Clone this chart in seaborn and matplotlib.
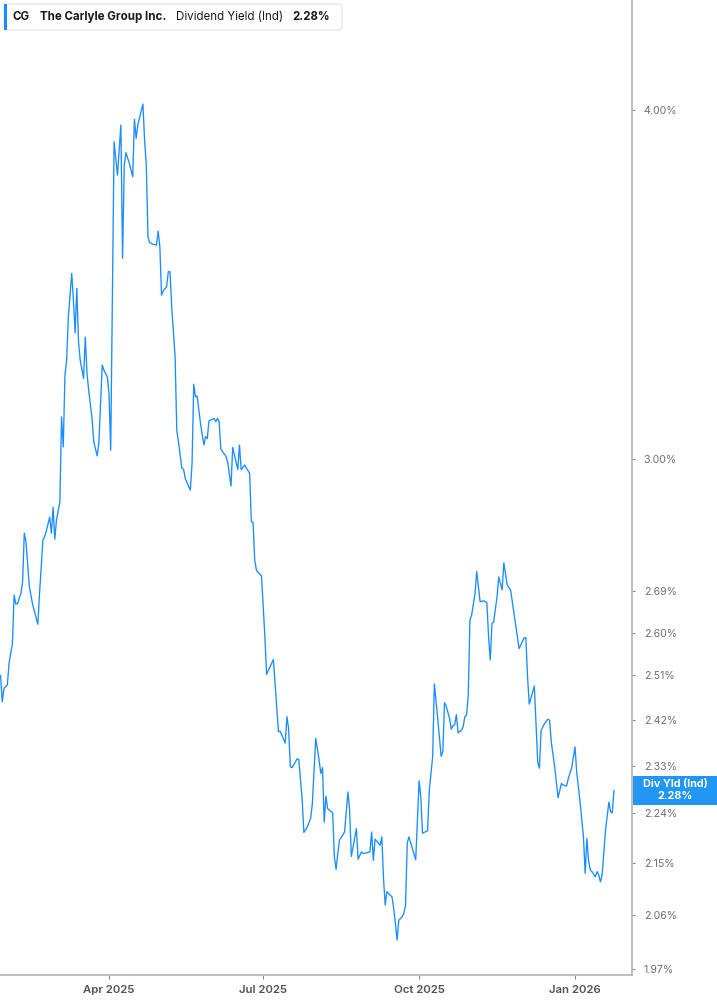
import matplotlib
matplotlib.use("Agg")
import matplotlib.pyplot as plt
from matplotlib.patches import Rectangle, FancyBboxPatch
import seaborn as sns
import pandas as pd
import numpy as np

# ---------------- data ----------------
dates = [
    "2025-01-27", "2025-01-28", "2025-01-29", "2025-01-31", "2025-02-01", "2025-02-03", "2025-02-04", "2025-02-05",
    "2025-02-06", "2025-02-08", "2025-02-09", "2025-02-10", "2025-02-11", "2025-02-13", "2025-02-15", "2025-02-18",
    "2025-02-19", "2025-02-21", "2025-02-22", "2025-02-23", "2025-02-25", "2025-02-26", "2025-02-27", "2025-02-28",
    "2025-03-01", "2025-03-03", "2025-03-04", "2025-03-05", "2025-03-06", "2025-03-07", "2025-03-08", "2025-03-10",
    "2025-03-11", "2025-03-12", "2025-03-13", "2025-03-14", "2025-03-15", "2025-03-17", "2025-03-18", "2025-03-19",
    "2025-03-20", "2025-03-22", "2025-03-23", "2025-03-25", "2025-03-26", "2025-03-28", "2025-03-29", "2025-03-31",
    "2025-04-01", "2025-04-02", "2025-04-04", "2025-04-06", "2025-04-08", "2025-04-09", "2025-04-10", "2025-04-11",
    "2025-04-13", "2025-04-15", "2025-04-16", "2025-04-17", "2025-04-18", "2025-04-21", "2025-04-22", "2025-04-23",
    "2025-04-24", "2025-04-25", "2025-04-27", "2025-04-29", "2025-04-30", "2025-05-01", "2025-05-02", "2025-05-03",
    "2025-05-05", "2025-05-06", "2025-05-07", "2025-05-08", "2025-05-10", "2025-05-11", "2025-05-12", "2025-05-14",
    "2025-05-15", "2025-05-16", "2025-05-19", "2025-05-20", "2025-05-21", "2025-05-22", "2025-05-23", "2025-05-25",
    "2025-05-27", "2025-05-28", "2025-05-29", "2025-05-30", "2025-06-02", "2025-06-03", "2025-06-04", "2025-06-05",
    "2025-06-06", "2025-06-09", "2025-06-10", "2025-06-12", "2025-06-13", "2025-06-16", "2025-06-17", "2025-06-18",
    "2025-06-20", "2025-06-23", "2025-06-24", "2025-06-25", "2025-06-26", "2025-06-27", "2025-06-30", "2025-07-02",
    "2025-07-03", "2025-07-07", "2025-07-10", "2025-07-11", "2025-07-14", "2025-07-15", "2025-07-16", "2025-07-17",
    "2025-07-18", "2025-07-21", "2025-07-22", "2025-07-24", "2025-07-25", "2025-07-27", "2025-07-29", "2025-07-30",
    "2025-07-31", "2025-08-01", "2025-08-03", "2025-08-04", "2025-08-05", "2025-08-06", "2025-08-07", "2025-08-08",
    "2025-08-11", "2025-08-12", "2025-08-13", "2025-08-14", "2025-08-15", "2025-08-18", "2025-08-20", "2025-08-21",
    "2025-08-22", "2025-08-25", "2025-08-26", "2025-08-28", "2025-08-29", "2025-09-02", "2025-09-03", "2025-09-04",
    "2025-09-05", "2025-09-08", "2025-09-09", "2025-09-10", "2025-09-11", "2025-09-12", "2025-09-15", "2025-09-16",
    "2025-09-17", "2025-09-18", "2025-09-19", "2025-09-21", "2025-09-22", "2025-09-23", "2025-09-24", "2025-09-25",
    "2025-09-29", "2025-10-01", "2025-10-02", "2025-10-03", "2025-10-06", "2025-10-07", "2025-10-09", "2025-10-10",
    "2025-10-12", "2025-10-14", "2025-10-15", "2025-10-16", "2025-10-17", "2025-10-19", "2025-10-20", "2025-10-21",
    "2025-10-22", "2025-10-23", "2025-10-24", "2025-10-26", "2025-10-27", "2025-10-28", "2025-10-29", "2025-10-30",
    "2025-10-31", "2025-11-01", "2025-11-03", "2025-11-04", "2025-11-06", "2025-11-08", "2025-11-10", "2025-11-11",
    "2025-11-12", "2025-11-13", "2025-11-14", "2025-11-16", "2025-11-17", "2025-11-19", "2025-11-20", "2025-11-22",
    "2025-11-24", "2025-11-27", "2025-11-29", "2025-12-02", "2025-12-03", "2025-12-04", "2025-12-05", "2025-12-07",
    "2025-12-08", "2025-12-10", "2025-12-11", "2025-12-12", "2025-12-14", "2025-12-16", "2025-12-17", "2025-12-18",
    "2025-12-20", "2025-12-22", "2025-12-24", "2025-12-25", "2025-12-27", "2025-12-28", "2025-12-30", "2026-01-01",
    "2026-01-02", "2026-01-04", "2026-01-06", "2026-01-07", "2026-01-08", "2026-01-09", "2026-01-10", "2026-01-11",
    "2026-01-13", "2026-01-14", "2026-01-15", "2026-01-16", "2026-01-17", "2026-01-19", "2026-01-21", "2026-01-22",
    "2026-01-23", "2026-01-24",
]

div_yield = [
    2.510, 2.456, 2.483, 2.490, 2.535, 2.577, 2.682, 2.662,
    2.663, 2.685, 2.711, 2.822, 2.802, 2.700, 2.660, 2.618,
    2.685, 2.806, 2.814, 2.827, 2.860, 2.822, 2.883, 2.808,
    2.853, 2.896, 3.106, 3.030, 3.215, 3.255, 3.373, 3.496,
    3.420, 3.329, 3.453, 3.305, 3.255, 3.206, 3.317, 3.220,
    3.175, 3.102, 3.043, 3.008, 3.039, 3.242, 3.228, 3.210,
    3.167, 3.022, 3.897, 3.791, 3.951, 3.540, 3.823, 3.862,
    3.828, 3.786, 3.970, 3.908, 3.951, 4.020, 3.902, 3.823,
    3.603, 3.586, 3.581, 3.579, 3.620, 3.574, 3.434, 3.446,
    3.458, 3.501, 3.501, 3.401, 3.264, 3.072, 3.043, 2.977,
    2.975, 2.952, 2.924, 2.989, 3.191, 3.158, 3.160, 3.089,
    3.035, 3.056, 3.051, 3.096, 3.102, 3.094, 3.102, 3.094,
    3.024, 3.007, 2.993, 2.934, 3.029, 2.974, 3.035, 2.974,
    2.985, 2.965, 2.849, 2.847, 2.760, 2.737, 2.724, 2.591,
    2.512, 2.543, 2.396, 2.397, 2.374, 2.426, 2.402, 2.328,
    2.326, 2.343, 2.342, 2.265, 2.205, 2.215, 2.231, 2.258,
    2.321, 2.383, 2.340, 2.315, 2.326, 2.224, 2.272, 2.249,
    2.241, 2.161, 2.139, 2.167, 2.191, 2.206, 2.280, 2.246,
    2.162, 2.212, 2.157, 2.170, 2.167, 2.170, 2.206, 2.155,
    2.193, 2.182, 2.197, 2.123, 2.077, 2.100, 2.091, 2.071,
    2.046, 2.018, 2.051, 2.057, 2.063, 2.077, 2.186, 2.197,
    2.156, 2.301, 2.271, 2.204, 2.208, 2.283, 2.347, 2.492,
    2.422, 2.348, 2.357, 2.454, 2.447, 2.422, 2.401, 2.408,
    2.410, 2.430, 2.394, 2.399, 2.406, 2.426, 2.429, 2.469,
    2.627, 2.638, 2.685, 2.734, 2.667, 2.669, 2.665, 2.591,
    2.542, 2.620, 2.623, 2.678, 2.722, 2.693, 2.754, 2.704,
    2.693, 2.616, 2.566, 2.589, 2.589, 2.507, 2.451, 2.476,
    2.488, 2.337, 2.325, 2.399, 2.412, 2.421, 2.419, 2.376,
    2.328, 2.269, 2.296, 2.293, 2.291, 2.305, 2.325, 2.366,
    2.318, 2.261, 2.197, 2.132, 2.194, 2.155, 2.138, 2.135,
    2.126, 2.135, 2.129, 2.117, 2.129, 2.209, 2.261, 2.243,
    2.241, 2.283,
]

y_ticks = [1.97, 2.06, 2.15, 2.24, 2.33, 2.42, 2.51, 2.60, 2.69, 3.00, 4.00]
x_tick_dates = ["2025-04-01", "2025-07-01", "2025-10-01", "2026-01-01"]
x_tick_labels = ["Apr 2025", "Jul 2025", "Oct 2025", "Jan 2026"]

ticker = "CG"
company = "The Carlyle Group Inc."
metric = "Dividend Yield (Ind)"
last_label = "2.28%"
tag_label = "Div Yld (Ind)"

# ---------------- styling ----------------
sns.set_style("white")
plt.rcParams["font.family"] = ["Inter", "DejaVu Sans"]

W, H = 717, 1005
fig = plt.figure(figsize=(W / 100, H / 100), dpi=100)
ax = fig.add_axes([0, 1 - 975 / H, 632 / W, 975 / H])

df = pd.DataFrame({"date": pd.to_datetime(dates), "value": div_yield})
line_color = "#1a8cff"
sns.lineplot(data=df, x="date", y="value", ax=ax, color=line_color, linewidth=0.95)

ax.set_yscale("log")
ax.set_ylim(1.9606, 4.380)
base = pd.Timestamp("2025-01-01")
ax.set_xlim(base + pd.Timedelta(days=25.67), base + pd.Timedelta(days=398.64))

ax.set_yticks(y_ticks)
ax.set_yticklabels([f"{v:.2f}%" for v in y_ticks])
ax.yaxis.set_minor_locator(matplotlib.ticker.NullLocator())
ax.yaxis.tick_right()
ax.set_xticks(pd.to_datetime(x_tick_dates))
ax.set_xticklabels(x_tick_labels)
ax.set_xlabel("")
ax.set_ylabel("")

spine_c = "#b4b4b4"
for s in ["top", "left"]:
    ax.spines[s].set_visible(False)
for s in ["right", "bottom"]:
    ax.spines[s].set_visible(True)
    ax.spines[s].set_color(spine_c)
    ax.spines[s].set_linewidth(1.2)

ax.tick_params(axis="y", which="major", right=True, left=False, length=2.5, width=0.8,
               color="#888888", pad=6, labelsize=7.6, labelcolor="#6b6f78")
ax.tick_params(axis="x", which="major", bottom=True, length=3, width=0.8,
               color="#888888", pad=4, labelsize=8.2, labelcolor="#4d5360")
for lbl in ax.get_xticklabels():
    lbl.set_fontweight("semibold")
ax.grid(False)

# ---------------- header legend ----------------
def fx(px):
    return px / W

def fy(py):
    return 1 - py / H

hdr = FancyBboxPatch((fx(4), fy(30)), fx(338), 26 / H,
                     boxstyle="round,pad=0,rounding_size=0.004",
                     transform=fig.transFigure, facecolor="white",
                     edgecolor="#e4e4e4", linewidth=0.8, zorder=5)
fig.patches.append(hdr)
fig.patches.append(Rectangle((fx(4), fy(30)), fx(3.3), 26 / H, transform=fig.transFigure,
                             facecolor=line_color, edgecolor="none", zorder=6))
ty = fy(17)
fig.text(fx(13), ty, ticker, fontsize=8.3, fontweight="bold", color="#1b1b1b", va="center", zorder=7)
fig.text(fx(40.5), ty, company, fontsize=8.3, fontweight="bold", color="#1b1b1b", va="center", zorder=7)
fig.text(fx(176), ty, metric, fontsize=8.3, color="#1b1b1b", va="center", zorder=7)
fig.text(fx(292.5), ty, last_label, fontsize=8.3, fontweight="bold", color="#1b1b1b", va="center", zorder=7)

# ---------------- last value tag ----------------
fig.patches.append(Rectangle((fx(633), fy(805)), fx(84), 29.5 / H, transform=fig.transFigure,
                             facecolor="#2196f3", edgecolor="none", zorder=6))
fig.text(fx(675), fy(784.3), tag_label, fontsize=7.8, fontweight="bold", color="white",
         ha="center", va="center", zorder=7)
fig.text(fx(675), fy(795.5), last_label, fontsize=7.8, fontweight="bold", color="white",
         ha="center", va="center", zorder=7)

fig.savefig("out.png", dpi=100)
